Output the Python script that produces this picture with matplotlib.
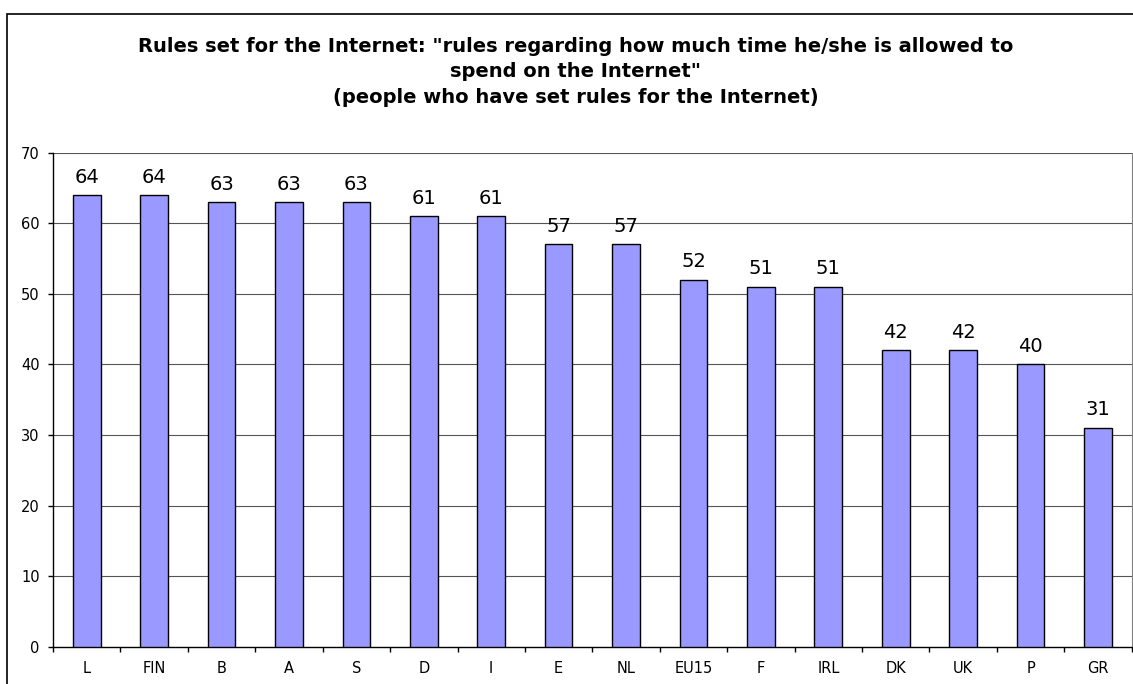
import matplotlib
matplotlib.use("Agg")
import matplotlib.pyplot as plt
from matplotlib.patches import Rectangle

categories = ["L", "FIN", "B", "A", "S", "D", "I", "E", "NL", "EU15", "F", "IRL", "DK", "UK", "P", "GR"]
values = [64, 64, 63, 63, 63, 61, 61, 57, 57, 52, 51, 51, 42, 42, 40, 31]
title_lines = [
    'Rules set for the Internet: "rules regarding how much time he/she is allowed to',
    'spend on the Internet"',
    '(people who have set rules for the Internet)',
]

plt.rcParams['font.family'] = ['DejaVu Sans']

W, H = 1133, 684
fig = plt.figure(figsize=(W / 100, H / 100), dpi=100)
fig.patch.set_facecolor("white")

# outer chart frame
fig.add_artist(Rectangle((7 / W, -0.1), 1.2, (H - 14) / H + 0.1, transform=fig.transFigure,
                         fill=False, edgecolor="black", linewidth=1.2, clip_on=False))

ax = fig.add_axes([53 / W, 1 - 646.7 / H, (1131.7 - 53) / W, (646.7 - 152.7) / H])
x = list(range(len(categories)))
ax.bar(x, values, width=0.41, color="#9999FF", edgecolor="black", linewidth=1.0, zorder=3)

ax.set_xlim(-0.5, len(categories) - 0.5)
ax.set_ylim(0, 70)
ax.set_yticks(range(0, 71, 10))
ax.set_yticklabels([str(v) for v in range(0, 71, 10)], fontsize=10.5)
ax.set_xticks(x)
ax.set_xticklabels(categories, fontsize=10.5)
ax.tick_params(axis="x", length=0, pad=10)
ax.set_xticks([i - 0.5 for i in range(len(categories) + 1)], minor=True)
ax.tick_params(axis="x", which="minor", length=3.5, width=1, direction="out", color="black")
ax.tick_params(axis="y", length=3.5, width=1, direction="out", pad=6)

for yv in range(10, 71, 10):
    ax.axhline(yv, color="#555555", linewidth=0.8, zorder=1)

for sp in ["left", "bottom"]:
    ax.spines[sp].set_color("black")
    ax.spines[sp].set_linewidth(1.0)
ax.spines["top"].set_visible(False)
ax.spines["right"].set_color("#808080")
ax.spines["right"].set_linewidth(0.8)

for xi, v in zip(x, values):
    ax.annotate(str(v), (xi, v), xytext=(0, 9), textcoords="offset points",
                ha="center", va="baseline", fontsize=14)

for i, line in enumerate(title_lines):
    fig.text(576 / W, 1 - [51.7, 77, 103][i] / H, line, ha="center", va="baseline",
             fontsize=14, fontweight="bold")

fig.savefig("out.png", dpi=100, facecolor="white")
